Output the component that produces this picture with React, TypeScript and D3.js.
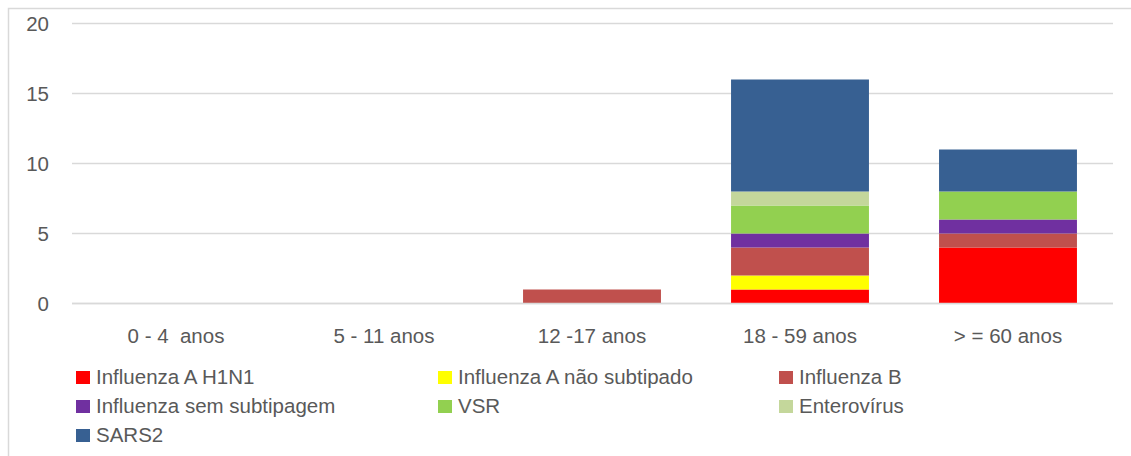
import React from "react";
import * as d3 from "d3";

// categories (age groups)
const categories = ["0 - 4  anos", "5 - 11 anos", "12 -17 anos", "18 - 59 anos", "> = 60 anos"];

// series values per age group
const h1n1 = [0, 0, 0, 1, 4];
const naoSubtipado = [0, 0, 0, 1, 0];
const influenzaB = [0, 0, 1, 2, 1];
const semSubtipagem = [0, 0, 0, 1, 1];
const vsr = [0, 0, 0, 2, 2];
const enterovirus = [0, 0, 0, 1, 0];
const sars2 = [0, 0, 0, 8, 3];

const seriesNames = [
  "Influenza A H1N1",
  "Influenza A não subtipado",
  "Influenza B",
  "Influenza sem subtipagem",
  "VSR",
  "Enterovírus",
  "SARS2",
];
const seriesValues = [h1n1, naoSubtipado, influenzaB, semSubtipagem, vsr, enterovirus, sars2];
const colors = ["#FF0000", "#FFFF00", "#C0504D", "#7030A0", "#92D050", "#C4D79B", "#376092"];

const yTicks = [0, 5, 10, 15, 20];

const width = 1131;
const height = 456;
const left = 72; // plot area left
const right = 1112; // plot area right
const top = 23.5;
const bottom = 303.5;
const font = "'Liberation Sans', Arial, sans-serif";
const textColor = "#595959";

const App = () => {
  // table built from the arrays for d3.stack
  const table = categories.map((c, i) => {
    const row: any = { cat: c };
    seriesNames.forEach((s, j) => (row[s] = seriesValues[j][i]));
    return row;
  });
  const stacked = d3.stack().keys(seriesNames)(table);

  const xScale = d3
    .scaleBand()
    .domain(categories)
    .range([left, right])
    .paddingInner(0.337)
    .paddingOuter(0.1685);

  const yScale = d3.scaleLinear().domain([0, 20]).range([bottom, top]);

  // legend grid: 3 columns
  const legendCols = [76, 438, 779];
  const legendTop = 371;
  const legendRow = 29;

  return (
    <svg
      width={width}
      height={height}
      style={{ position: "absolute", left: 0, top: 0, background: "#fff" }}
      fontFamily={font}
    >
      {/* chart border */}
      <rect x={8.5} y={8.5} width={1140} height={470} fill="#fff" stroke="#D9D9D9" strokeWidth={1.5} />

      {/* gridlines */}
      {yTicks.map((t) => (
        <line
          key={"g" + t}
          x1={left}
          x2={right + 1}
          y1={yScale(t)}
          y2={yScale(t)}
          stroke="#D9D9D9"
          strokeWidth={1.3}
        />
      ))}

      {/* y tick labels */}
      {yTicks.map((t) => (
        <text
          key={"t" + t}
          x={49}
          y={yScale(t)}
          dy="0.36em"
          textAnchor="end"
          fontSize={20.5}
          fill={textColor}
        >
          {t}
        </text>
      ))}

      {/* stacked bars */}
      {stacked.map((layer, j) => (
        <g key={layer.key} fill={colors[j]}>
          {layer.map((d, i) =>
            d[1] - d[0] > 0 ? (
              <rect
                key={i}
                x={xScale(categories[i])}
                y={yScale(d[1])}
                width={xScale.bandwidth()}
                height={yScale(d[0]) - yScale(d[1])}
              />
            ) : null
          )}
        </g>
      ))}

      {/* x axis line */}
      <line x1={left} x2={right + 1} y1={bottom} y2={bottom} stroke="#D9D9D9" strokeWidth={1.3} />

      {/* x labels */}
      {categories.map((c) => (
        <text
          key={c}
          x={(xScale(c) as number) + xScale.bandwidth() / 2}
          y={343}
          textAnchor="middle"
          fontSize={20.5}
          fill={textColor}
          style={{ whiteSpace: "pre" }}
        >
          {c}
        </text>
      ))}

      {/* legend */}
      {seriesNames.map((s, j) => {
        const col = j % 3;
        const row = Math.floor(j / 3);
        const x = legendCols[col];
        const y = legendTop + row * legendRow;
        return (
          <g key={s}>
            <rect x={x} y={y} width={14} height={13} fill={colors[j]} />
            <text x={x + 20} y={y + 12.5} fontSize={20.5} fill={textColor}>
              {s}
            </text>
          </g>
        );
      })}
    </svg>
  );
};

export default App;
